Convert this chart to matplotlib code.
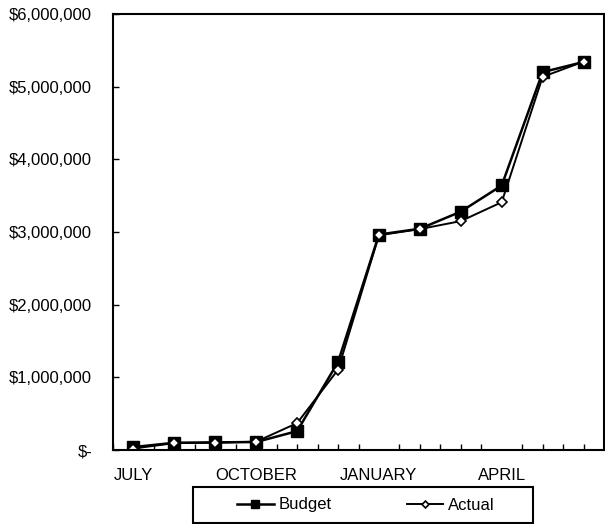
import matplotlib.pyplot as plt
import numpy as np
from matplotlib.ticker import FuncFormatter
from matplotlib.patches import Rectangle

plt.rcParams['font.family'] = ['Liberation Sans', 'DejaVu Sans']

months = ['JULY', 'AUGUST', 'SEPTEMBER', 'OCTOBER', 'NOVEMBER', 'DECEMBER',
          'JANUARY', 'FEBRUARY', 'MARCH', 'APRIL', 'MAY', 'JUNE']
budget = [40000, 100000, 105000, 110000, 260000, 1210000,
          2965000, 3045000, 3280000, 3640000, 5200000, 5340000]
actual = [20000, 95000, 100000, 115000, 370000, 1105000,
          2955000, 3040000, 3150000, 3410000, 5135000, 5345000]
shown_months = ['JULY', 'OCTOBER', 'JANUARY', 'APRIL']

W, H = 605, 524
fig = plt.figure(figsize=(W / 100, H / 100), dpi=100)
ax = fig.add_axes([113/W, 74/H, 491/W, 436/H])

x = np.arange(len(months))
ax.plot(x, budget, color='black', lw=1.8, marker='s', ms=8,
        mfc='black', mec='black', label='Budget')
ax.plot(x, actual, color='black', lw=1.4, marker='D', ms=5,
        mfc='white', mec='black', mew=1.2, label='Actual')

ax.set_xlim(-0.5, len(months) - 0.5)
ax.set_ylim(0, 6000000)
ax.set_yticks(np.arange(0, 6000001, 1000000))

def money(v, pos):
    if v == 0:
        return '$-'
    return '${:,.0f}'.format(v)

ax.yaxis.set_major_formatter(FuncFormatter(money))

ax.set_xticks(np.arange(-0.5, len(months), 0.5), minor=True)
ax.set_xticks([months.index(m) for m in shown_months])
ax.set_xticklabels(shown_months)
ax.tick_params(axis='x', which='major', length=0, pad=13, labelsize=12)
ax.tick_params(axis='x', which='minor', direction='in', length=4, width=1)
ax.tick_params(axis='y', direction='in', length=4, width=1, pad=15, labelsize=12)

for s in ax.spines.values():
    s.set_linewidth(1.5)

# legend entries without frame, box drawn separately so it can be wider
fig.legend(loc='center', bbox_to_anchor=(366/W, 1 - 505/H), ncol=2,
           frameon=False, fontsize=12, columnspacing=4.5, handlelength=2.2,
           handletextpad=0.3, markerscale=0.7)
fig.patches.append(Rectangle((193/W, 1 - 523/H), 340/W, 36/H,
                             transform=fig.transFigure, fill=False,
                             edgecolor='black', lw=1.5))

fig.savefig('out.png', dpi=100)
